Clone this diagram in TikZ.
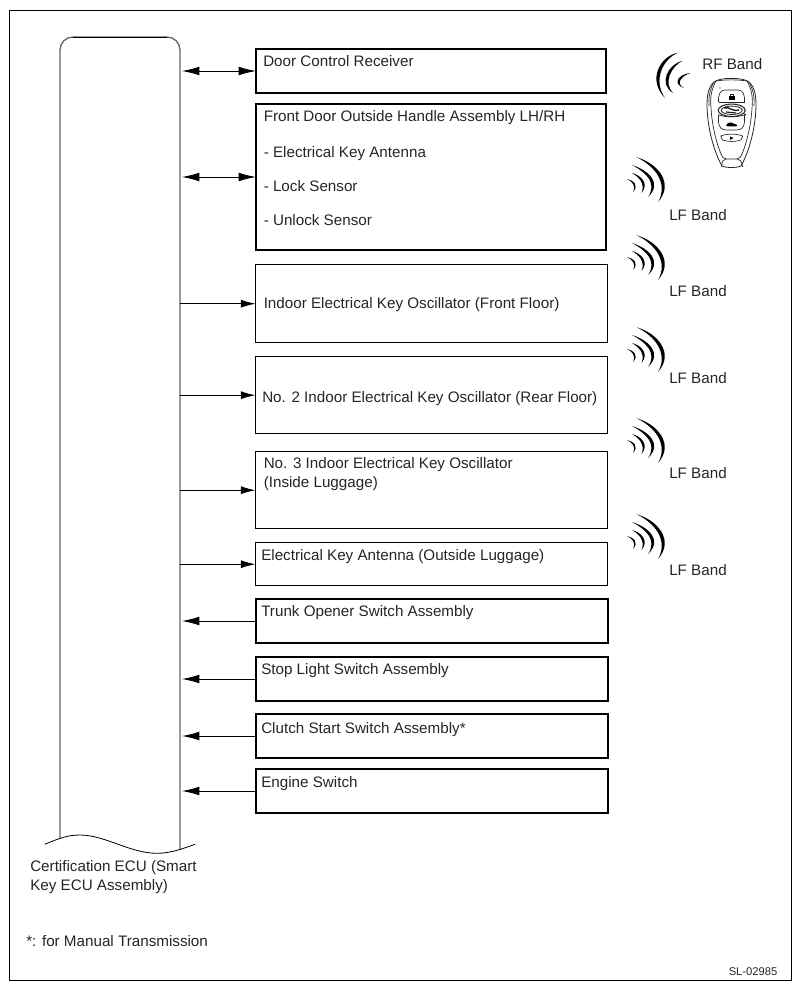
\documentclass[tikz,border=0pt]{standalone}
\usepackage{fontspec}
\setmainfont{Liberation Sans}
\usetikzlibrary{arrows.meta,calc}
\tikzset{
  thickbox/.style={draw=black,line width=1.6pt,anchor=north west,inner sep=0pt,outer sep=0pt},
  thinbox/.style={draw=black,line width=0.7pt,anchor=north west,inner sep=0pt,outer sep=0pt},
  lbl/.style={anchor=base west,inner sep=0pt,font=\fontsize{11.4}{13}\selectfont,text=black!85},
  conn/.style={line width=0.7pt,black,>={Latex[length=11pt,width=6pt]}},
  bigtip/.style={line width=0.7pt,black,>={Latex[length=13pt,width=6.5pt]}},
  fob/.style={line width=0.5pt,black!85},
  crescent/.style={fill=black,draw=none},
  lfwave/.pic={
    \fill[crescent] (9.7,-22.7) .. controls (30,-17) and (48,3) .. (31,22) .. controls (42,3) and (27,-14.5) .. cycle;
    \fill[crescent] (5,-15) .. controls (21,-10) and (36,3) .. (21,17) .. controls (30.5,3) and (19,-7.5) .. cycle;
    \fill[crescent] (5,-7) .. controls (13,-5) and (23,3) .. (14.5,13) .. controls (18.5,3) and (11.5,-3) .. cycle;
    \fill[crescent] (0,-1) .. controls (6,0) and (12.5,5) .. (6,12) .. controls (9.3,5) and (5,1.8) .. cycle;
  },
}
\begin{document}
\begin{tikzpicture}[x=0.75pt,y=-0.75pt]
\useasboundingbox (0,0) rectangle (802,991);
\fill[white] (0,0) rectangle (802,991);
\node[draw=black,line width=0.7pt,anchor=north west,minimum width=586.5pt,minimum height=727.5pt,inner sep=0pt,outer sep=0pt] (frame) at (9.5,10.5) {};

% ECU
\node[anchor=north west,minimum width=90pt,minimum height=600pt,inner sep=0pt,outer sep=0pt] (ecu) at (60,37) {};
\draw[line width=1pt,black!60] (60,838.5) -- (60,50) arc[start angle=180,end angle=90,x radius=13,y radius=-13] -- (167,37) arc[start angle=90,end angle=0,x radius=13,y radius=-13] -- (180,850);
\draw[line width=0.7pt,black] (73,37.2) -- (167,37.2);
\draw[line width=0.6pt,black] (44.7,844.3) .. controls (60,838) and (68,835) .. (80,835) .. controls (105,835) and (130,853.3) .. (157,853.3) .. controls (170,853.3) and (182,849) .. (195,844.3);

% boxes
\newcommand{\bx}[6]{\node[#1,minimum width=#5*0.75pt,minimum height=#6*0.75pt] (#2) at (#3,#4) {};}
\bx{thickbox}{door}{256}{49}{350}{44}
\bx{thickbox}{front}{256}{104}{350}{146}
\bx{thinbox}{indoor}{255.5}{264.7}{351.5}{78}
\bx{thinbox}{notwo}{255.5}{356.7}{351.5}{77}
\bx{thinbox}{nothree}{255.5}{451.7}{351.5}{77}
\bx{thinbox}{antenna}{255.5}{542.7}{351.5}{43}
\bx{thickbox}{trunk}{256}{599}{352}{44}
\bx{thickbox}{stoplight}{256}{657}{352}{44}
\bx{thickbox}{clutch}{256}{714}{352}{44}
\bx{thickbox}{engine}{256}{769}{352}{44}

% labels
\node[lbl] (tdoor) at (263,67) {Door Control Receiver};
\node[lbl] (tfront) at (263.5,121.5) {Front Door Outside Handle Assembly LH/RH};
\node[lbl] (tfa) at (263.5,158) {- Electrical Key Antenna};
\node[lbl] (tfb) at (263.5,192) {- Lock Sensor};
\node[lbl] (tfc) at (263.5,225) {- Unlock Sensor};
\node[lbl] (tind) at (263.5,308) {Indoor Electrical Key Oscillator (Front Floor)};
\node[lbl] (ttwo) at (262,402) {No. 2 Indoor Electrical Key Oscillator (Rear Floor)};
\node[lbl] (tthree) at (263.5,468) {No. 3 Indoor Electrical Key Oscillator};
\node[lbl] (tthreeb) at (263.5,487.5) {(Inside Luggage)};
\node[lbl] (tant) at (261,560) {Electrical Key Antenna (Outside Luggage)};
\node[lbl] (ttr) at (261,616) {Trunk Opener Switch Assembly};
\node[lbl] (tst) at (261,674) {Stop Light Switch Assembly};
\node[lbl] (tcl) at (261,733) {Clutch Start Switch Assembly*};
\node[lbl] (ten) at (261,787) {Engine Switch};
\node[lbl] (trf) at (702,69.5) {RF Band};
\node[lbl] (tlfa) at (669,220) {LF Band};
\node[lbl] (tlfb) at (669,296) {LF Band};
\node[lbl] (tlfc) at (669,383) {LF Band};
\node[lbl] (tlfd) at (669,478) {LF Band};
\node[lbl] (tlfe) at (669,575) {LF Band};
\node[lbl] (tecua) at (30,871) {Certification ECU (Smart};
\node[lbl] (tecub) at (30,890) {Key ECU Assembly)};
\node[lbl] (tnote) at (26,946) {*: for Manual Transmission};
\node[lbl,font=\fontsize{8.4}{10}\selectfont] (tcode) at (728.5,975) {SL-02985};

% connectors
\draw[bigtip,<->] ($(door.west -| ecu.east)+(2,0)$) -- (door.west);
\draw[bigtip,<->] ($(front.west -| ecu.east)+(2,0)$) -- (front.west);
\foreach \n in {indoor,notwo,nothree,antenna}{\draw[conn,->] (\n.west -| ecu.east) -- (\n.west);}
\foreach \n in {trunk,stoplight,clutch,engine}{\draw[bigtip,->] (\n.west) -- ($(\n.west -| ecu.east)+(2,0)$);}

% waves
\foreach \yy in {180,258,350,441,537}{\pic at (627,\yy) {lfwave};}
\fill[crescent] (678,52.7) .. controls (660,56) and (647,80) .. (665,98) .. controls (652.5,80) and (663,59) .. cycle;
\fill[crescent] (682.7,60.7) .. controls (668,64) and (658,84) .. (673,93) .. controls (663,83) and (671,66.5) .. cycle;
\fill[crescent] (690.7,73) .. controls (678,74) and (672,84) .. (684,88) .. controls (676,84) and (680,76.5) .. cycle;

% key fob
\begin{scope}[fob]
\draw[line width=0.6pt] (720,79.5) .. controls (711,81) and (707,90) .. (707,104) .. controls (707,125) and (713,150) .. (722,166) .. controls (726,168) and (737,168) .. (741,166) .. controls (750,150) and (756,125) .. (756,104) .. controls (756,90) and (752,81) .. (743,79.5) .. controls (736,78) and (727,78) .. cycle;
\draw (716,81) .. controls (711,90) and (710,98) .. (711,108) .. controls (712,125) and (716,142) .. (721,154);
\draw (714,82) .. controls (709.5,90) and (708.5,98) .. (709,106);
\draw (747,81) .. controls (752,90) and (753,98) .. (752,108) .. controls (751,125) and (747,142) .. (742,154);
\draw (749,82) .. controls (753.5,90) and (754.5,98) .. (754,106);
\draw (716,81) .. controls (726,79.5) and (737,79.5) .. (747,81);
\draw (721.7,167) .. controls (722,161) and (723,159) .. (726,159) -- (737,159) .. controls (740,159) and (741.5,161) .. (742.7,167);
\draw (721,154) .. controls (722,157) and (723,158) .. (726,159);
\draw (742,154) .. controls (741,157) and (740,158) .. (737,159);
% buttons
\draw (718.5,102) .. controls (718,95) and (720,90) .. (725,90) -- (738,90) .. controls (743,90) and (745,95) .. (744.5,102);
\draw (718.5,102) -- (744.5,102);
\draw[line width=0.8pt] (731.7,110.3) ellipse[x radius=13.5,y radius=6.2];
\draw[line width=0.6pt] (731.7,110.3) ellipse[x radius=10.5,y radius=4.2];
\draw[line width=1.1pt] (724,108) .. controls (729,106) and (732,112) .. (739,110);
\draw[line width=0.9pt] (726,112) -- (736,113);
\fill[black!85] (745,114.5) circle[radius=1.1];
\draw (718.5,115) .. controls (728,117.5) and (735,117.5) .. (744.5,115) -- (744.5,122) .. controls (744,128) and (741,130) .. (736,130) -- (727,130) .. controls (722,130) and (719,128) .. (718.5,122) -- cycle;
\draw (720.7,136) .. controls (727,133.5) and (736,133.5) .. (742.7,136) -- (741,140) .. controls (735,142) and (728,142) .. (722.5,140) -- cycle;
% button icons
\fill[black] (729,96) rectangle (734.5,100);
\draw[line width=0.7pt] (730,96) -- (730,94) -- (733.5,94) -- (733.5,96);
\fill[black] (726,125.5) -- (728,123) -- (731,122.5) -- (736,124.5) -- (737.5,125.5) -- (735,126.5) -- (728,126.5) -- cycle;
\fill[black] (730,136.5) -- (733.5,138) -- (730,140) -- cycle;
\fill[black] (720,88) circle[radius=0.7];
\end{scope}
\end{tikzpicture}
\end{document}
